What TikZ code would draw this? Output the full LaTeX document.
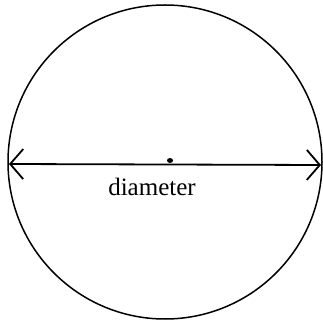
\documentclass[tikz,border=0pt]{standalone}
\usepackage{fontspec}
\setmainfont{Liberation Serif}
\usetikzlibrary{arrows.meta}
\begin{document}
\begin{tikzpicture}[x=1pt,y=1pt,
  outline/.style={line width=1.5pt, black},
  diam/.style={line width=1.8pt, {Straight Barb[length=13pt,width=30pt,line width=1.8pt]}-{Straight Barb[length=13pt,width=30pt,line width=1.8pt]}},
  lbl/.style={font=\fontsize{25}{27}\selectfont, inner sep=0pt}]
\useasboundingbox (0,0) rectangle (322,324);
\node[circle, draw, outline, minimum size=314pt, inner sep=0pt] (c) at (165,162) {};
\coordinate (l) at (9,160);
\coordinate (r) at (321,159);
\draw[diam] (l) -- (r);
\fill (170,163.5) ellipse (3pt and 2.5pt);
\node[lbl] (d) at (152,137) {diameter};
\end{tikzpicture}
\end{document}
